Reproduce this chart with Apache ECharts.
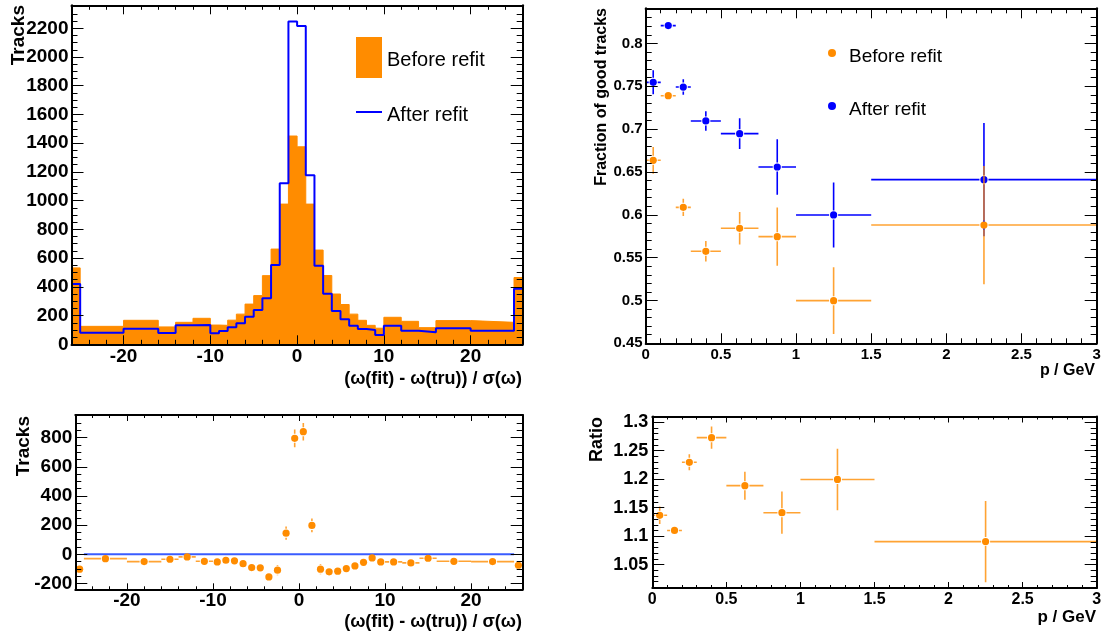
<!DOCTYPE html>
<html>
<head>
<meta charset="utf-8">
<script src="https://cdn.jsdelivr.net/npm/echarts@6/dist/echarts.min.js"></script>
<style>
  html, body { margin: 0; padding: 0; background: #fff; }
  #chart { width: 1103px; height: 637px; }
</style>
</head>
<body>
<div id="chart"></div>
<script>
// ---- residual distribution (variable-width bins) ----
const residualBinEdges = [-26, -25, -20, -16, -14, -12, -10, -9, -8, -7, -6, -5, -4, -3, -2, -1,
  0, 1, 2, 3, 4, 5, 6, 7, 8, 9, 10, 12, 14, 16, 20, 25, 26];
const beforeRefitCounts = [532, 125, 167, 121, 153, 181, 134, 132, 168, 210, 280, 339, 478, 663, 976, 1450,
  1375, 976, 656, 479, 350, 277, 210, 167, 132, 112, 188, 160, 116, 165, 153, 465];
const afterRefitCounts = [420, 81, 109, 79, 132, 134, 77, 93, 118, 146, 192, 239, 320, 552, 1121, 2247,
  2216, 1177, 547, 352, 232, 174, 130, 106, 99, 65, 130, 95, 84, 112, 95, 386];
// after minus before, per bin
const countDifference = [-102, -30, -50, -34, -18, -48, -52, -41, -45, -64, -91, -93, -155, -109, 145, 795,
  841, 198, -102, -120, -116, -98, -80, -55, -25, -52, -52, -59, -27, -48, -50, -75];
const countDifferenceErr = [31, 14, 16, 14, 16, 18, 15, 15, 17, 19, 22, 24, 28, 35, 46, 61,
  60, 47, 35, 29, 24, 21, 18, 16, 15, 13, 18, 16, 14, 17, 16, 29];

// ---- fraction of good tracks vs momentum ----
const momentumBinEdges = [0, 0.1, 0.2, 0.3, 0.5, 0.75, 1.0, 1.5, 3.0];
const fractionBefore = [0.6636, 0.739, 0.6087, 0.5574, 0.5842, 0.5745, 0.4998, 0.588];
const fractionBeforeErr = [0.0156, 0.004, 0.010, 0.012, 0.019, 0.034, 0.039, 0.069];
const fractionAfter = [0.7546, 0.8208, 0.7491, 0.7095, 0.6947, 0.6558, 0.5998, 0.641];
const fractionAfterErr = [0.014, 0.004, 0.009, 0.0113, 0.018, 0.0325, 0.038, 0.066];
const fractionRatio = [1.1366, 1.110, 1.2296, 1.2729, 1.1886, 1.1412, 1.1995, 1.0904];
const fractionRatioErr = [0.0153, 0.004, 0.014, 0.0196, 0.0245, 0.037, 0.054, 0.0713];

// ---- tick labels ----
const residualTicks = [-20, -10, 0, 10, 20];
const trackTicks = [0, 200, 400, 600, 800, 1000, 1200, 1400, 1600, 1800, 2000, 2200];
const differenceTicks = [-200, 0, 200, 400, 600, 800];
const momentumTicks = [0, 0.5, 1, 1.5, 2, 2.5, 3];
const fractionTicks = [0.45, 0.5, 0.55, 0.6, 0.65, 0.7, 0.75, 0.8];
const ratioTicks = [1.05, 1.1, 1.15, 1.2, 1.25, 1.3];

const FONT = '"Liberation Sans", Arial, Helvetica, sans-serif';
const ORANGE = '#ff8c00';
const ORANGE_BAR = 'rgba(255,140,0,0.8)';
const BLUE = '#0000ff';

function tickRange(min, max, step) {
  const out = [];
  const k0 = Math.ceil(min / step - 1e-9), k1 = Math.floor(max / step + 1e-9);
  for (let k = k0; k <= k1; k++) out.push(+(k * step).toFixed(6));
  return out;
}
const fmt = v => String(+(+v).toFixed(3));

// Each pad: grid with a ROOT-like frame, inward ticks on all four sides.
const grids = [
  { left: 71.5, top: 5.3, width: 451.2, height: 339 },     // residuals
  { left: 645.7, top: 8.3, width: 451, height: 335 },      // fraction
  { left: 75.3, top: 415, width: 447.4, height: 174.3 },   // difference
  { left: 652.3, top: 416.5, width: 444.4, height: 171.5 } // ratio
];
const xAxes = [], yAxes = [];

function axisSet(g, dim, a) {
  const sides = dim === 'x' ? ['bottom', 'top'] : ['left', 'right'];
  const list = [];
  sides.forEach((pos, si) => {
    [false, true].forEach(minor => {
      const main = si === 0 && !minor;
      list.push({
        type: 'value', gridIndex: g, position: pos, min: a.min, max: a.max, z: 5, silent: true,
        axisLine: { show: !minor, onZero: false, lineStyle: { color: '#000', width: 2 } },
        axisTick: {
          show: true, inside: true,
          length: minor ? a.minorLen : a.majorLen,
          customValues: minor ? tickRange(a.min, a.max, a.minorStep) : a.major,
          lineStyle: { color: '#000', width: 1 }
        },
        axisLabel: {
          show: main, customValues: a.major, formatter: fmt, margin: a.margin,
          fontSize: a.fontSize, fontWeight: 'bold', fontFamily: FONT, color: '#000'
        },
        splitLine: { show: false }, minorTick: { show: false }, axisPointer: { show: false }
      });
    });
  });
  return list;
}

const axisSpecs = [
  { x: { min: -26, max: 26, major: residualTicks, minorStep: 2, majorLen: 9, minorLen: 4.5, fontSize: 19, margin: 3 },
    y: { min: 0, max: 2360, major: trackTicks, minorStep: 50, majorLen: 12, minorLen: 6, fontSize: 19, margin: 3 } },
  { x: { min: 0, max: 3, major: momentumTicks, minorStep: 0.1, majorLen: 10, minorLen: 5, fontSize: 15, margin: 4 },
    y: { min: 0.45, max: 0.841, major: fractionTicks, minorStep: 0.01, majorLen: 12, minorLen: 6, fontSize: 15, margin: 3 } },
  { x: { min: -26, max: 26, major: residualTicks, minorStep: 2, majorLen: 6, minorLen: 3, fontSize: 19, margin: 2 },
    y: { min: -240, max: 955, major: differenceTicks, minorStep: 50, majorLen: 12, minorLen: 6, fontSize: 19, margin: 3 } },
  { x: { min: 0, max: 3, major: momentumTicks, minorStep: 0.1, majorLen: 6, minorLen: 3, fontSize: 16, margin: 4 },
    y: { min: 1.009, max: 1.31, major: ratioTicks, minorStep: 0.01, majorLen: 12, minorLen: 6, fontSize: 18, margin: 4 } }
];
axisSpecs.forEach((s, g) => {
  xAxes.push(...axisSet(g, 'x', s.x));
  yAxes.push(...axisSet(g, 'y', s.y));
});

// histogram outline points: value of bin i starts at its left edge
function stepPoints(edges, counts) {
  return edges.map((e, i) => [e, counts[Math.min(i, counts.length - 1)]]);
}
// [centre, value, xLow, xHigh, yLow, yHigh]
function errorPoints(edges, vals, errs) {
  return vals.map((v, i) => [(edges[i] + edges[i + 1]) / 2, v, edges[i], edges[i + 1], v - errs[i], v + errs[i]]);
}
function errorBarRenderer(markerColor, barColor) {
  return function (params, api) {
    const x = api.value(0), y = api.value(1);
    const c = api.coord([x, y]);
    const xl = api.coord([api.value(2), y])[0];
    const xh = api.coord([api.value(3), y])[0];
    const yLow = api.coord([x, api.value(4)])[1];
    const yHigh = api.coord([x, api.value(5)])[1];
    const gap = 4.5, r = 3.6;
    const kids = [];
    const seg = (x1, y1, x2, y2) => kids.push({
      type: 'line', shape: { x1, y1, x2, y2 },
      style: { stroke: barColor, lineWidth: 1.6, fill: null }
    });
    if (c[0] - gap > xl) seg(xl, c[1], c[0] - gap, c[1]);
    if (xh > c[0] + gap) seg(c[0] + gap, c[1], xh, c[1]);
    if (yLow > c[1] + gap) seg(c[0], c[1] + gap, c[0], yLow);
    if (yHigh < c[1] - gap) seg(c[0], yHigh, c[0], c[1] - gap);
    kids.push({ type: 'circle', shape: { cx: c[0], cy: c[1], r }, style: { fill: markerColor } });
    return { type: 'group', children: kids };
  };
}

const series = [
  { type: 'line', name: 'histBefore', xAxisIndex: 0, yAxisIndex: 0, step: 'end', symbol: 'none',
    data: stepPoints(residualBinEdges, beforeRefitCounts),
    lineStyle: { color: ORANGE, width: 1 }, areaStyle: { color: ORANGE, opacity: 1 },
    itemStyle: { color: ORANGE }, z: 2, animation: false },
  { type: 'line', name: 'histAfter', xAxisIndex: 0, yAxisIndex: 0, step: 'end', symbol: 'none',
    data: stepPoints(residualBinEdges, afterRefitCounts),
    lineStyle: { color: BLUE, width: 2 }, itemStyle: { color: BLUE }, z: 3, animation: false },

  { type: 'custom', name: 'fracAfter', xAxisIndex: 4, yAxisIndex: 4, clip: true,
    renderItem: errorBarRenderer(BLUE, BLUE), encode: { x: 0, y: 1 },
    data: errorPoints(momentumBinEdges, fractionAfter, fractionAfterErr), itemStyle: { color: BLUE }, z: 3 },
  { type: 'custom', name: 'fracBefore', xAxisIndex: 4, yAxisIndex: 4, clip: true,
    renderItem: errorBarRenderer(ORANGE, ORANGE_BAR), encode: { x: 0, y: 1 },
    data: errorPoints(momentumBinEdges, fractionBefore, fractionBeforeErr), itemStyle: { color: ORANGE }, z: 4 },

  { type: 'line', name: 'zeroLine', xAxisIndex: 8, yAxisIndex: 8, symbol: 'none',
    data: [[-25, 0], [25, 0]], lineStyle: { color: '#3a5cff', width: 2 }, z: 2, animation: false },
  { type: 'custom', name: 'difference', xAxisIndex: 8, yAxisIndex: 8, clip: true,
    renderItem: errorBarRenderer(ORANGE, ORANGE_BAR), encode: { x: 0, y: 1 },
    data: errorPoints(residualBinEdges, countDifference, countDifferenceErr), z: 3 },

  { type: 'custom', name: 'ratio', xAxisIndex: 12, yAxisIndex: 12, clip: true,
    renderItem: errorBarRenderer(ORANGE, ORANGE_BAR), encode: { x: 0, y: 1 },
    data: errorPoints(momentumBinEdges, fractionRatio, fractionRatioErr), z: 3 }
];

// legend labels: rich-text padding lowers the text a little relative to its icon
function legendEntry(seriesName, label, icon, color, box, fontSize, padTop, padLeft) {
  return {
    left: box.left, top: box.top, itemWidth: box.w, itemHeight: box.h, padding: 0, selectedMode: false,
    data: [{ name: seriesName, icon, itemStyle: { color } }],
    formatter: () => '{t|' + label + '}',
    textStyle: {
      color: '#000', fontFamily: FONT, fontSize,
      rich: { t: { color: '#000', fontFamily: FONT, fontSize, padding: [padTop, 0, 0, padLeft] } }
    }
  };
}
const legends = [
  legendEntry('histBefore', 'Before refit', 'rect', ORANGE, { left: 356, top: 37, w: 26, h: 41 }, 20, 6, 0),
  legendEntry('histAfter', 'After refit', 'rect', BLUE, { left: 356, top: 105, w: 26, h: 2 }, 20, 6, 0),
  legendEntry('fracBefore', 'Before refit', 'circle', ORANGE, { left: 828, top: 47.5, w: 8, h: 8 }, 19, 8, 8),
  legendEntry('fracAfter', 'After refit', 'circle', BLUE, { left: 828, top: 100.5, w: 8, h: 8 }, 19, 8, 8)
];

function vTitle(text, x, top, size) {
  return { type: 'text', x, y: top, rotation: Math.PI / 2, silent: true, z: 10,
    style: { text, font: `bold ${size}px ${FONT}`, fill: '#000', align: 'right', verticalAlign: 'middle' } };
}
function hTitle(text, right, y, size) {
  return { type: 'text', x: right, y, silent: true, z: 10,
    style: { text, font: `bold ${size}px ${FONT}`, fill: '#000', align: 'right', verticalAlign: 'middle' } };
}

const chart = echarts.init(document.getElementById('chart'), null, { renderer: 'canvas' });
chart.setOption({
  animation: false,
  backgroundColor: '#fff',
  grid: grids.map(g => Object.assign({ show: false, containLabel: false, outerBoundsMode: 'none' }, g)),
  xAxis: xAxes,
  yAxis: yAxes,
  legend: legends,
  series,
  graphic: [
    vTitle('Tracks', 19, 5, 19),
    vTitle('Fraction of good tracks', 602, 8, 16),
    vTitle('Tracks', 23.5, 416, 19),
    vTitle('Ratio', 596.7, 417, 18),
    hTitle('(ω(fit) - ω(tru)) / σ(ω)', 522, 379, 18),
    hTitle('p / GeV', 1095, 371, 16),
    hTitle('(ω(fit) - ω(tru)) / σ(ω)', 522, 622, 18),
    hTitle('p / GeV', 1096, 617, 17)
  ]
});
</script>
</body>
</html>
